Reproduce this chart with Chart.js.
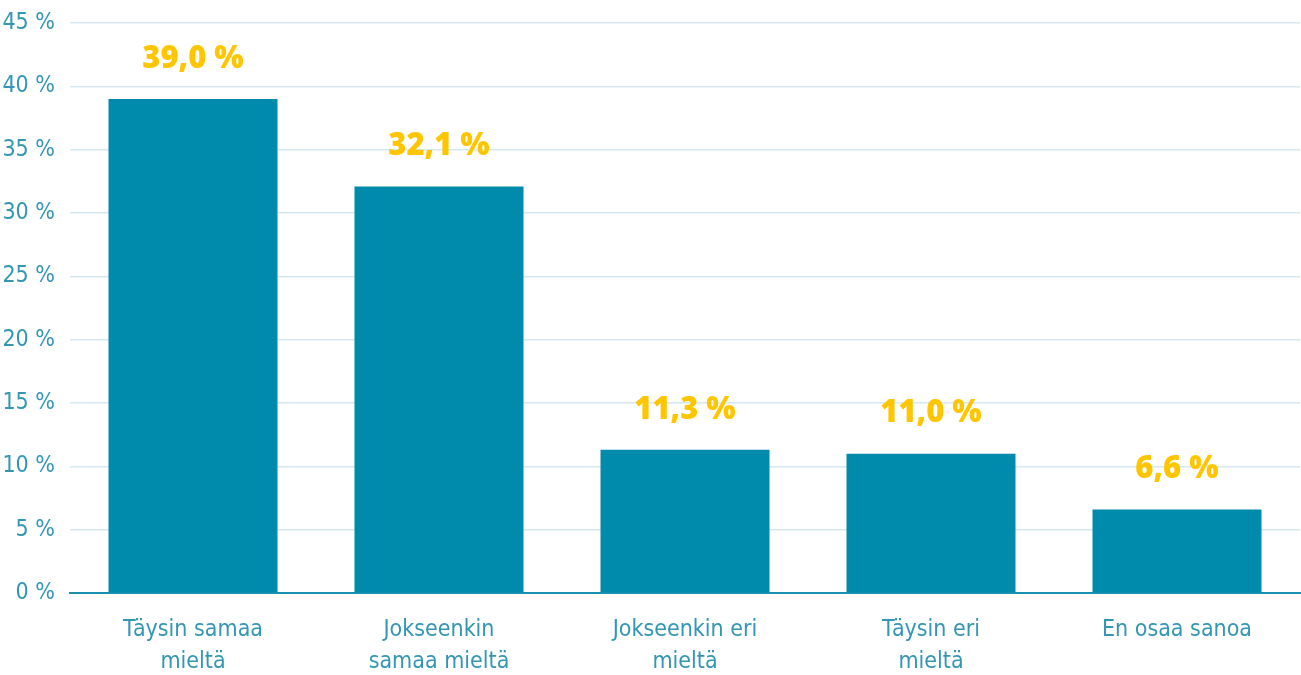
<!DOCTYPE html>
<html><head><meta charset="utf-8">
<script src="https://cdn.jsdelivr.net/npm/chart.js@4.4.1/dist/chart.umd.min.js"></script>
<style>html,body{margin:0;padding:0;background:#fff;}#wrap{width:1301px;height:675px;}</style>
</head><body><div id="wrap"><canvas id="c"></canvas></div>
<script>
const categories = [["Täysin samaa","mieltä"],["Jokseenkin","samaa mieltä"],["Jokseenkin eri","mieltä"],["Täysin eri","mieltä"],["En osaa sanoa"]];
const values = [39.0, 32.1, 11.3, 11.0, 6.6];
const valueLabels = ["39,0 %","32,1 %","11,3 %","11,0 %","6,6 %"];
const yTicks = [0,5,10,15,20,25,30,35,40,45];

const FONT = "'DejaVu Sans Condensed','Liberation Sans Narrow','Open Sans',sans-serif";
const labelPlugin = {
  id:'vals',
  afterDatasetsDraw(chart){
    const ctx = chart.ctx;
    const meta = chart.getDatasetMeta(0);
    ctx.save();
    ctx.fillStyle = '#FFC600';
    ctx.font = "800 31px 'Open Sans',sans-serif";
    ctx.textAlign='center'; ctx.textBaseline='middle';
    meta.data.forEach((bar,i)=>{ ctx.fillText(valueLabels[i], bar.x, bar.y-40); });
    ctx.restore();
  }
};
new Chart(document.getElementById('c'),{
  type:'bar',
  data:{labels:categories,datasets:[{data:values,backgroundColor:'#008BAD',barPercentage:0.687,categoryPercentage:1}]},
  options:{
    responsive:true,maintainAspectRatio:false,animation:false,
    layout:{padding:{top:23,right:1,left:0,bottom:0}},
    plugins:{legend:{display:false},tooltip:{enabled:false}},
    scales:{
      x:{grid:{display:false,drawTicks:false},border:{color:'#1a8fb0',width:2},
         ticks:{color:'#3396B4',font:{family:FONT,size:23,lineHeight:1.38},padding:21},
         afterFit(s){s.height=82;s.paddingLeft=0;s.paddingRight=0;}},
      y:{min:0,max:45,afterBuildTicks(s){s.ticks=yTicks.map(v=>({value:v}));},
         grid:{color:'#D4E8F1',lineWidth:1.5,drawTicks:false},border:{display:false},
         ticks:{color:'#3396B4',font:{family:FONT,size:23},padding:15,callback:v=>v+' %'},
         afterFit(s){s.width=70;s.paddingTop=0;s.paddingBottom=0;}}
    }
  },
  plugins:[labelPlugin]
});
</script></body></html>
